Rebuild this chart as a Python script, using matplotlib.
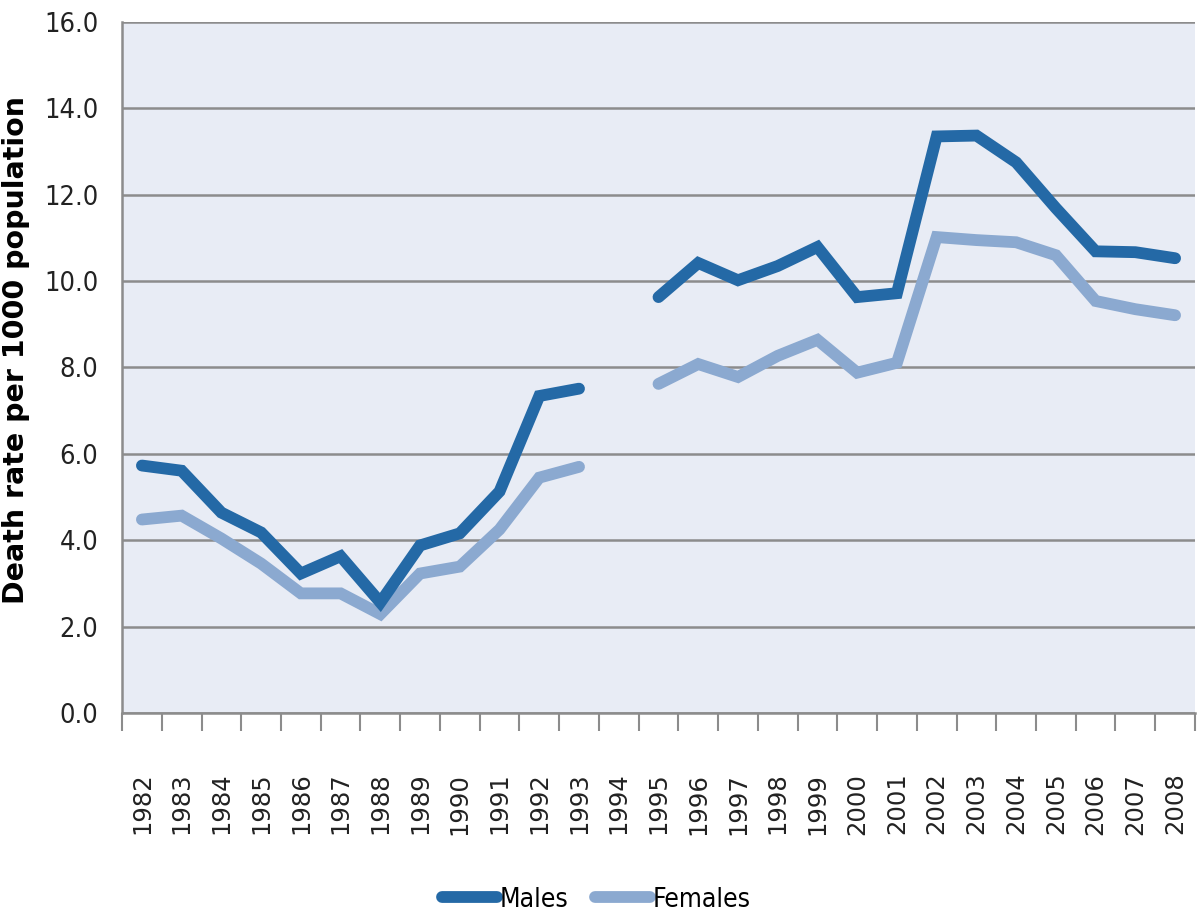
import numpy as np
import matplotlib
matplotlib.use("Agg")
import matplotlib.pyplot as plt
from matplotlib.ticker import FixedLocator
from matplotlib import font_manager

years = ["1982", "1983", "1984", "1985", "1986", "1987", "1988", "1989", "1990",
         "1991", "1992", "1993", "1994", "1995", "1996", "1997", "1998", "1999",
         "2000", "2001", "2002", "2003", "2004", "2005", "2006", "2007", "2008"]
males = [5.73, 5.61, 4.64, 4.18, 3.23, 3.63, 2.56, 3.88, 4.16, 5.13, 7.34, 7.51, np.nan,
         9.63, 10.42, 10.02, 10.35, 10.79, 9.63, 9.72, 13.35, 13.37, 12.75, 11.69,
         10.69, 10.67, 10.53]
females = [4.48, 4.57, 4.04, 3.46, 2.77, 2.77, 2.29, 3.23, 3.39, 4.25, 5.45, 5.70, np.nan,
           7.62, 8.08, 7.78, 8.27, 8.64, 7.88, 8.11, 11.02, 10.95, 10.90, 10.60,
           9.54, 9.35, 9.21]
y_ticks = [0, 2, 4, 6, 8, 10, 12, 14, 16]

narrow_fp = font_manager.FontProperties(family="DejaVu Sans", stretch="condensed", size=19.5)

fig = plt.figure(figsize=(12, 9.16), dpi=100)
ax = fig.add_axes([0.1017, 0.2216, 0.8941, 0.7544])
ax.set_facecolor("#E8ECF5")

x = np.arange(len(years))
l1, = ax.plot(x, males, color="#2469A6", lw=8.5, solid_capstyle="round",
              solid_joinstyle="miter", label="Males", zorder=4)
l2, = ax.plot(x, females, color="#8BA9D0", lw=8.5, solid_capstyle="round",
              solid_joinstyle="miter", label="Females", zorder=3)

ax.set_xlim(-0.5, len(years) - 0.5)
ax.set_ylim(0, 16)
ax.set_yticks(y_ticks)
ax.set_yticklabels([f"{v:.1f}" for v in y_ticks], fontproperties=narrow_fp)
ax.yaxis.grid(True, color="#8C8C8C", lw=1.8)
ax.set_axisbelow(True)
ax.tick_params(axis="y", length=0, pad=17, colors="#222222")

ax.set_xticks(x)
ax.set_xticklabels(years, rotation=90, fontsize=17.5, family="DejaVu Sans")
ax.xaxis.set_minor_locator(FixedLocator(np.arange(-0.5, len(years), 1.0)))
ax.tick_params(axis="x", which="major", length=0, pad=43, colors="#222222")
ax.tick_params(axis="x", which="minor", length=13, width=1.5, color="#8C8C8C")

for s in ["top", "right"]:
    ax.spines[s].set_visible(False)
for s in ["left", "bottom"]:
    ax.spines[s].set_color("#8C8C8C")
    ax.spines[s].set_linewidth(1.8)

fig.text(0.013, 1 - 350 / 916, "Death rate per 1000 population", rotation=90,
         fontsize=20.5, fontweight="bold", family="DejaVu Sans", va="center", ha="center")

leg_fp = font_manager.FontProperties(family="DejaVu Sans", stretch="condensed", size=19)
fig.legend(handles=[l1, l2], loc="center", bbox_to_anchor=(0.497, 0.018), ncol=2,
           frameon=False, handlelength=2.1, handletextpad=0.1, columnspacing=1.0,
           prop=leg_fp)

fig.savefig("out.png", dpi=100)
